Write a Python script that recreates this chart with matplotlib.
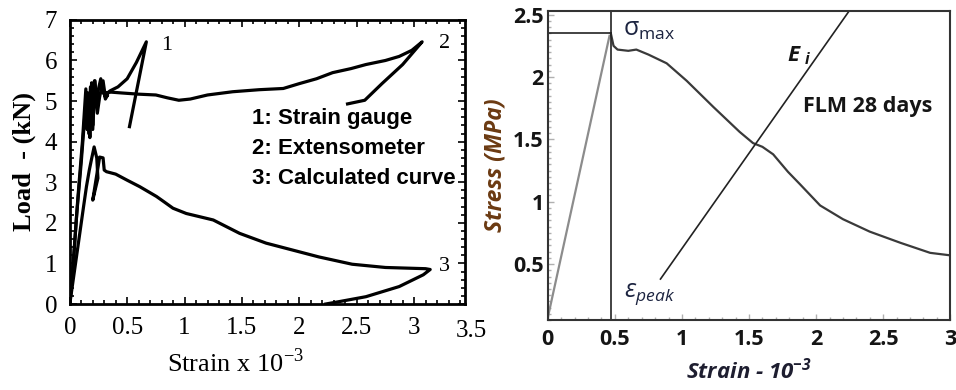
import matplotlib
matplotlib.use("Agg")
import matplotlib.pyplot as plt
from matplotlib.ticker import MultipleLocator

# left panel: load vs strain, three curves
sg_x = [0, 0.03, 0.07, 0.11, 0.14, 0.15, 0.16, 0.175, 0.19, 0.2, 0.215, 0.23, 0.25, 0.27,
        0.29, 0.31, 0.35, 0.42, 0.5, 0.58, 0.667, 0.52]
sg_y = [0, 1.0, 2.6, 4.0, 5.3, 4.3, 5.2, 4.1, 5.45, 4.4, 5.5, 4.9, 5.3, 5.55,
        5.2, 5.15, 5.25, 5.35, 5.55, 5.95, 6.46, 4.37]

ext_x = [0, 0.02, 0.06, 0.1, 0.13, 0.15, 0.165, 0.18, 0.2, 0.22, 0.24, 0.26, 0.29, 0.31,
         0.33, 0.31, 0.3, 0.36, 0.45, 0.6, 0.75, 0.85, 0.95, 1.05, 1.2, 1.42, 1.65, 1.86,
         2.0, 2.15, 2.29, 2.45, 2.58, 2.75, 2.87, 2.98, 3.07, 2.9, 2.72, 2.57, 2.42]
ext_y = [0, 0.6, 2.2, 3.5, 4.6, 5.2, 4.2, 5.35, 4.3, 5.5, 4.7, 5.1, 5.5, 5.1,
         5.15, 5.05, 5.2, 5.22, 5.2, 5.17, 5.15, 5.08, 5.02, 5.05, 5.15, 5.23, 5.28, 5.31,
         5.43, 5.55, 5.70, 5.8, 5.9, 6.0, 6.1, 6.25, 6.46, 5.9, 5.43, 5.02, 4.93]

calc_x = [0, 0.04, 0.087, 0.12, 0.145, 0.17, 0.188, 0.212, 0.235, 0.245, 0.2, 0.26, 0.29,
          0.3, 0.32, 0.4, 0.5, 0.61, 0.755, 0.82, 0.899, 1.015, 1.25, 1.48, 1.71, 1.94,
          2.17, 2.46, 2.75, 3.1, 3.14, 3.08, 2.87, 2.58, 2.35, 2.23]
calc_y = [0, 0.8, 1.74, 2.4, 2.89, 3.3, 3.55, 3.87, 3.6, 3.1, 2.56, 3.62, 3.6,
          3.3, 3.26, 3.2, 3.05, 2.89, 2.65, 2.52, 2.36, 2.23, 2.07, 1.74, 1.50, 1.33,
          1.16, 0.98, 0.9, 0.87, 0.85, 0.72, 0.43, 0.18, 0.06, 0.0]

legend_lines = ["1: Strain gauge", "2: Extensometer", "3: Calculated curve"]
left_xticks = [0, 0.5, 1, 1.5, 2, 2.5, 3]

# right panel: stress vs strain
pre_x = [0, 0.46]
pre_y = [0.07, 2.33]
post_x = [0.47, 0.49, 0.52, 0.6, 0.66, 0.75, 0.886, 1.035, 1.234, 1.43, 1.53, 1.6, 1.68,
          1.79, 1.88, 2.03, 2.2, 2.4, 2.63, 2.85, 3.0]
post_y = [2.35, 2.25, 2.22, 2.21, 2.22, 2.18, 2.11, 1.97, 1.76, 1.56, 1.47, 1.44, 1.38,
          1.24, 1.14, 0.97, 0.86, 0.76, 0.67, 0.59, 0.57]
ei_x = [0.84, 2.24]
ei_y = [0.38, 2.52]
peak_strain = 0.47
peak_stress = 2.35

fig = plt.figure(figsize=(9.56, 3.90), dpi=100)

# ---------- left ----------
ax1 = fig.add_axes([0.073, 0.2205, 0.413, 0.7285])
for xs, ys in [(sg_x, sg_y), (ext_x, ext_y), (calc_x, calc_y)]:
    ax1.plot(xs, ys, color="black", lw=2.3, solid_joinstyle="round")
ax1.set_xticks(left_xticks)
ax1.set_xticklabels([f"{v:g}" for v in left_xticks])
ax1.set_xlim(0, 3.44)
ax1.set_ylim(0, 7)
ax1.xaxis.set_minor_locator(MultipleLocator(0.1))
ax1.yaxis.set_major_locator(MultipleLocator(1))
ax1.yaxis.set_minor_locator(MultipleLocator(0.2))
ax1.tick_params(which="both", direction="in", top=True, right=True, width=1.2)
ax1.tick_params(which="major", length=5, pad=9, labelsize=18,
                labelfontfamily="Liberation Serif")
ax1.tick_params(which="minor", length=3)
# the 3.5 label sits past the axis end in the original
ax1.text(3.5, -0.4, "3.5", fontfamily="Liberation Serif", fontsize=18,
         ha="center", va="top", clip_on=False)
for sp in ax1.spines.values():
    sp.set_linewidth(2)
ax1.set_ylabel("Load  - (kN)", fontfamily="Liberation Serif", fontweight="bold",
               fontsize=19, labelpad=6)
ax1.set_xlabel(r"Strain x 10$^{\mathregular{-3}}$", fontfamily="Liberation Serif",
               fontsize=19)
ax1.xaxis.set_label_coords(0.42, -0.155)
ax1.text(0.8, 6.38, "1", fontfamily="Liberation Serif", fontsize=16, va="center")
ax1.text(3.22, 6.43, "2", fontfamily="Liberation Serif", fontsize=16, va="center")
ax1.text(3.22, 0.92, "3", fontfamily="Liberation Serif", fontsize=16, va="center")
for i, t in enumerate(legend_lines):
    ax1.text(1.59, 4.58 - i * 0.74, t, fontfamily="Liberation Sans", fontweight="bold",
             fontsize=16, va="center")

# ---------- right ----------
ax2 = fig.add_axes([0.573, 0.179, 0.421, 0.793])
ax2.plot(pre_x, pre_y, color="#8c8c8c", lw=1.6)
ax2.plot(post_x, post_y, color="#3a3a3a", lw=1.6)
ax2.plot(ei_x, ei_y, color="#222222", lw=1.2)
ax2.axvline(peak_strain, color="#222222", lw=1.2)
ax2.plot([0, peak_strain], [peak_stress, peak_stress], color="#222222", lw=1.2)
ax2.set_xlim(0, 3)
ax2.set_ylim(0.05, 2.53)
ax2.set_xticks([0, 0.5, 1, 1.5, 2, 2.5, 3])
ax2.set_xticklabels(["0", "0.5", "1", "1.5", "2", "2.5", "3"])
ax2.set_yticks([0.5, 1, 1.5, 2, 2.5])
ax2.set_yticklabels(["0.5", "1", "1.5", "2", "2.5"])
ax2.xaxis.set_minor_locator(MultipleLocator(0.1))
ax2.yaxis.set_minor_locator(MultipleLocator(0.05))
ax2.tick_params(which="both", direction="in", color="#b0b0b0", width=1)
ax2.tick_params(which="major", length=4, pad=6, labelsize=15.5, labelcolor="#151515")
ax2.tick_params(axis="y", which="major", pad=3)
ax2.tick_params(which="minor", length=2.5)
for lab in ax2.get_xticklabels() + ax2.get_yticklabels():
    lab.set_fontfamily("Open Sans")
    lab.set_fontweight("bold")
for sp in ax2.spines.values():
    sp.set_linewidth(1.5)
    sp.set_color("#333333")
ax2.set_ylabel("Stress (MPa)", fontfamily="Open Sans", fontweight="bold",
               fontstyle="italic", fontsize=16.5, color="#6b3a12", labelpad=4)
ax2.set_xlabel(r"Strain - $\mathregular{10^{-3}}$", fontfamily="Open Sans",
               fontweight="bold", fontstyle="italic", fontsize=16, color="#1e1e30",
               labelpad=6)
ax2.text(0.56, 2.38, r"$\mathregular{\sigma_{max}}$", fontfamily="Open Sans",
         fontsize=18, color="#1c2440", va="center")
ax2.text(1.78, 2.17, r"$\mathregular{E_{\ i}}$", fontfamily="Open Sans",
         fontweight="bold", fontstyle="italic", fontsize=16, color="#151515", va="center")
ax2.text(1.9, 1.76, "FLM 28 days", fontfamily="Open Sans", fontweight="bold",
         fontsize=15.5, color="#151515", va="center")
ax2.text(0.57, 0.26, r"$\mathregular{\varepsilon_{peak}}$", fontfamily="Open Sans",
         fontstyle="italic", fontsize=18, color="#1c2440", va="center")

fig.savefig("out.png", dpi=100)
